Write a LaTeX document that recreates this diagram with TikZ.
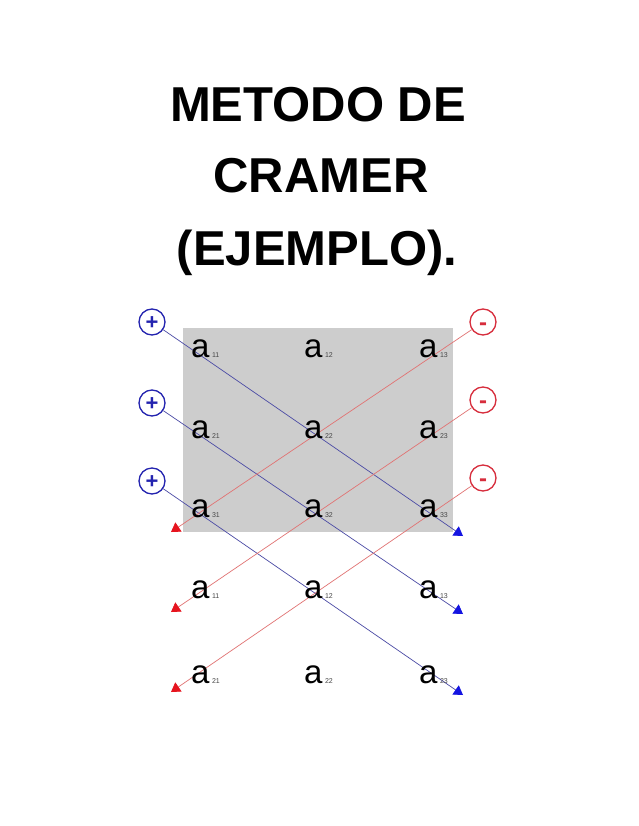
\documentclass[tikz,border=0pt]{standalone}
\usepackage{fontspec}
\setmainfont{Liberation Sans}
\usetikzlibrary{arrows.meta}
\definecolor{pblue}{RGB}{35,35,175}
\definecolor{pred}{RGB}{215,45,60}
\definecolor{lblue}{RGB}{75,75,165}
\definecolor{lred}{RGB}{225,115,115}
\definecolor{tblue}{RGB}{20,20,225}
\definecolor{tred}{RGB}{230,20,30}
\definecolor{subgray}{RGB}{70,70,70}
\definecolor{boxgray}{RGB}{205,205,205}
\newcommand{\ent}[1]{a\hspace{2.5pt}\textcolor{subgray}{\fontsize{7}{7}\selectfont #1}}
\tikzset{
  titletext/.style={anchor=base, inner sep=0pt, font=\fontsize{49}{59}\selectfont\bfseries},
  entry/.style={anchor=base west, inner sep=0pt, font=\fontsize{33}{33}\selectfont},
  pluscirc/.style={circle, draw=pblue, line width=1.3pt, minimum size=26pt, inner sep=0pt,
    text=pblue, text height=15.4pt, text depth=0pt, font=\fontsize{22}{22}\selectfont\bfseries},
  minuscirc/.style={circle, draw=pred, line width=1.3pt, minimum size=26pt, inner sep=0pt,
    text=pred, text height=17.5pt, text depth=0pt, font=\fontsize{24}{24}\selectfont\bfseries},
  bline/.style={draw=lblue, line width=0.7pt, -{Triangle[length=9pt,width=11pt,color=tblue]}},
  rline/.style={draw=lred, line width=0.7pt, -{Triangle[length=9pt,width=11pt,color=tred]}}
}
\begin{document}
\begin{tikzpicture}[x=1pt,y=-1pt]
\useasboundingbox[fill=white] (0,0) rectangle (638,826);
% title
\node[titletext] (t1) at (318,122) {METODO DE};
\node[titletext] (t2) at (321,193) {CRAMER};
\node[titletext] (t3) at (317,265) {(EJEMPLO).};
% gray box
\fill[boxgray] (183,328) rectangle (453,532);
% sign circles
\node[pluscirc] (p1) at (152,322) {+};
\node[pluscirc] (p2) at (152,403) {+};
\node[pluscirc] (p3) at (152,481) {+};
\node[minuscirc] (n1) at (483,322) {-};
\node[minuscirc] (n2) at (483,400) {-};
\node[minuscirc] (n3) at (483,478) {-};
% arrow ends
\coordinate (bt1) at (463,536);
\coordinate (bt2) at (463,614);
\coordinate (bt3) at (463,695);
\coordinate (rt1) at (171,532);
\coordinate (rt2) at (171,612);
\coordinate (rt3) at (171,692);
% diagonals
\draw[bline] (p1) -- (bt1);
\draw[bline] (p2) -- (bt2);
\draw[bline] (p3) -- (bt3);
\draw[rline] (n1) -- (rt1);
\draw[rline] (n2) -- (rt2);
\draw[rline] (n3) -- (rt3);
% entries
\node[entry] (m11) at (191,357) {\ent{11}};
\node[entry] (m12) at (304,357) {\ent{12}};
\node[entry] (m13) at (419,357) {\ent{13}};
\node[entry] (m21) at (191,438) {\ent{21}};
\node[entry] (m22) at (304,438) {\ent{22}};
\node[entry] (m23) at (419,438) {\ent{23}};
\node[entry] (m31) at (191,517) {\ent{31}};
\node[entry] (m32) at (304,517) {\ent{32}};
\node[entry] (m33) at (419,517) {\ent{33}};
\node[entry] (r11) at (191,598) {\ent{11}};
\node[entry] (r12) at (304,598) {\ent{12}};
\node[entry] (r13) at (419,598) {\ent{13}};
\node[entry] (s21) at (191,683) {\ent{21}};
\node[entry] (s22) at (304,683) {\ent{22}};
\node[entry] (s23) at (419,683) {\ent{23}};
\end{tikzpicture}
\end{document}
